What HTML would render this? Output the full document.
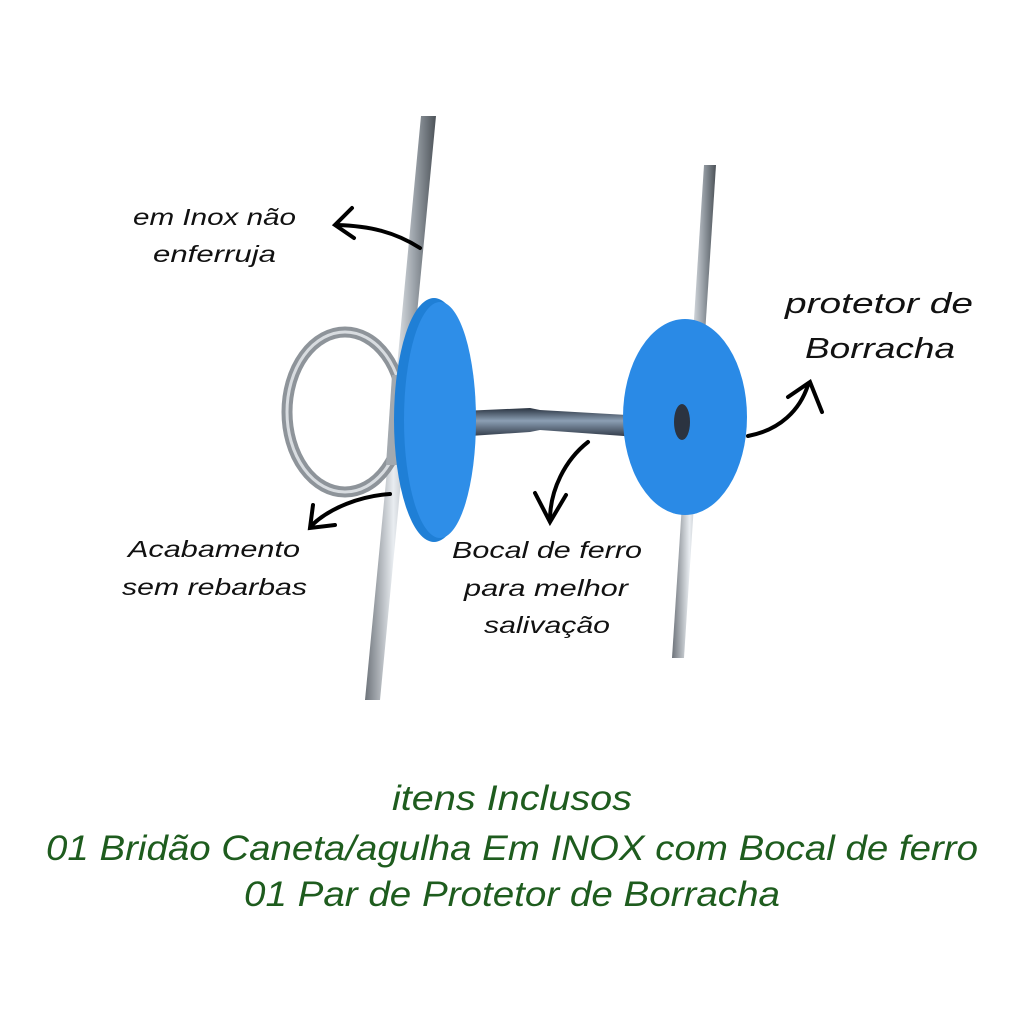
<!DOCTYPE html>
<html><head><meta charset="utf-8"><style>
html,body{margin:0;padding:0;background:#fff;}
svg{display:block}
.t{font-family:"Liberation Sans",sans-serif;font-style:italic;fill:#111;font-size:23px}
.g{font-family:"Liberation Sans",sans-serif;font-style:italic;fill:#1e5c1e;font-size:35px}
.a{fill:none;stroke:#000;stroke-width:4;stroke-linecap:round}
</style></head><body>
<svg width="1024" height="1024" viewBox="0 0 1024 1024">
<defs>
<linearGradient id="st" x1="0" x2="1"><stop offset="0" stop-color="#6d737a"/><stop offset=".4" stop-color="#e9edf1"/><stop offset=".7" stop-color="#9aa1a8"/><stop offset="1" stop-color="#4c5258"/></linearGradient>
<linearGradient id="mp" x1="0" y1="0" x2="0" y2="1"><stop offset="0" stop-color="#2a3340"/><stop offset=".4" stop-color="#8c9fb4"/><stop offset="1" stop-color="#1d2430"/></linearGradient>
</defs>
<polygon points="704,165 716,165 684,658 672,658" fill="url(#st)"/>
<polygon points="421,116 436,116 380,700 365,700" fill="url(#st)"/>
<ellipse cx="345" cy="412" rx="58" ry="80" fill="none" stroke="#8e949a" stroke-width="11"/>
<ellipse cx="345" cy="412" rx="58" ry="80" fill="none" stroke="#d8dce0" stroke-width="3"/>
<polygon points="392,375 420,375 414,465 386,465" fill="#a3a9af"/>
<path d="M440 412 L530 408 L540 410 L680 418 L680 440 L540 430 L530 432 L440 438 Z" fill="url(#mp)"/>
<ellipse cx="434" cy="420" rx="40" ry="122" fill="#1f7fd6"/>
<ellipse cx="440" cy="420" rx="36" ry="118" fill="#2e8ee8"/>
<ellipse cx="685" cy="417" rx="62" ry="98" fill="#2a8ae6"/>
<ellipse cx="682" cy="422" rx="8" ry="18" fill="#2b3340"/>
<path class="a" d="M420 248 C395 232 370 226 337 225"/>
<path class="a" d="M352 208 L335 225 L354 238" stroke-width="5"/>
<path class="a" d="M390 494 C360 496 330 508 312 525"/>
<path class="a" d="M313 505 L310 528 L335 525" stroke-width="5"/>
<path class="a" d="M588 442 C565 460 550 490 550 520"/>
<path class="a" d="M535 493 L550 522 L566 495" stroke-width="5"/>
<path class="a" d="M748 436 C780 430 800 410 808 385"/>
<path class="a" d="M788 397 L810 382 L822 412" stroke-width="5"/>
<text class="t" x="133" y="225" textLength="163" lengthAdjust="spacingAndGlyphs">em Inox não</text>
<text class="t" x="153" y="262" textLength="123" lengthAdjust="spacingAndGlyphs">enferruja</text>
<text class="t" x="785" y="313" style="font-size:29px" textLength="188" lengthAdjust="spacingAndGlyphs">protetor de</text>
<text class="t" x="805" y="358" style="font-size:29px" textLength="150" lengthAdjust="spacingAndGlyphs">Borracha</text>
<text class="t" x="128" y="557" textLength="172" lengthAdjust="spacingAndGlyphs">Acabamento</text>
<text class="t" x="122" y="595" textLength="185" lengthAdjust="spacingAndGlyphs">sem rebarbas</text>
<text class="t" x="452" y="558" textLength="190" lengthAdjust="spacingAndGlyphs">Bocal de ferro</text>
<text class="t" x="464" y="596" textLength="164" lengthAdjust="spacingAndGlyphs">para melhor</text>
<text class="t" x="484" y="633" textLength="126" lengthAdjust="spacingAndGlyphs">salivação</text>
<text class="g" x="392" y="810" textLength="240" lengthAdjust="spacingAndGlyphs">itens Inclusos</text>
<text class="g" x="46" y="860" textLength="932" lengthAdjust="spacingAndGlyphs">01 Bridão Caneta/agulha Em INOX com Bocal de ferro</text>
<text class="g" x="244" y="906" textLength="536" lengthAdjust="spacingAndGlyphs">01 Par de Protetor de Borracha</text>
</svg>
</body></html>
